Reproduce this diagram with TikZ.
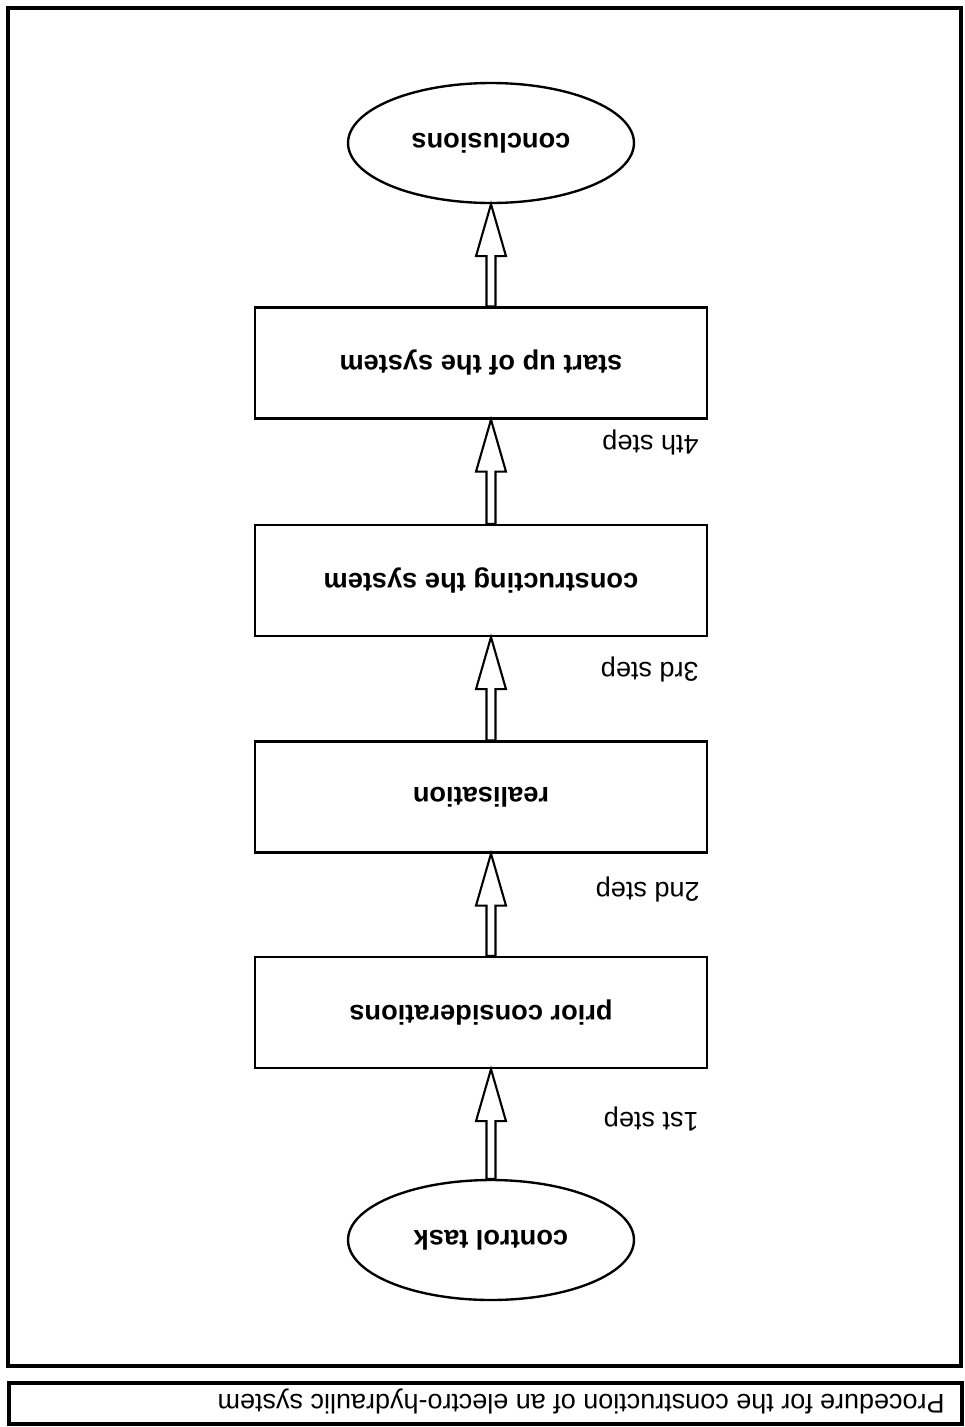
\documentclass[tikz,border=0pt]{standalone}
\usepackage{fontspec}
\setmainfont{Liberation Sans}
\usepackage{graphicx}
\usetikzlibrary{shapes.geometric,calc}

% the whole sheet is printed upside down
\newcommand\flip[1]{\rotatebox{180}{#1}}
% hollow arrow: shaft from #1, tip at #2
\newcommand\hollowarrow[2]{%
 \draw[line width=1.2pt,fill=white] ($(#1)+(-4.5,0)$) -- ($(#2)+(-4.5,52)$)
  -- ($(#2)+(-15,52)$) -- (#2) -- ($(#2)+(15,52)$) -- ($(#2)+(4.5,52)$)
  -- ($(#1)+(4.5,0)$) -- cycle;}

\begin{document}
\begin{tikzpicture}[x=0.02cm,y=-0.02cm,
 stepbox/.style={draw,line width=1.35pt,minimum width=9.04cm,minimum height=2.22cm,
  font=\bfseries\fontsize{15.5}{18}\selectfont},
 endpoint/.style={draw,ellipse,line width=1.35pt,inner sep=0pt,minimum width=5.72cm,
  minimum height=2.4cm,font=\bfseries\fontsize{15.5}{18}\selectfont},
 steplabel/.style={anchor=east,inner sep=0pt,font=\fontsize{15.4}{18}\selectfont}]
\useasboundingbox (0,0) rectangle (964,1427);
\draw[line width=2pt] (8,8) rectangle (961,1366);
\draw[line width=1.8pt] (9,1383) rectangle (962,1424);
\node[anchor=east,inner sep=0pt,font=\fontsize{15.35}{18}\selectfont] (title) at (945,1401)
 {\flip{Procedure for the construction of an electro-hydraulic system}};

\node[endpoint] (concl) at (491,143) {\flip{conclusions}};
\node[stepbox] (startup) at (481,363) {\flip{start up of the system}};
\node[stepbox] (constr) at (481,580.5) {\flip{constructing the system}};
\node[stepbox] (real) at (481,797) {\flip{realisation}};
\node[stepbox] (prior) at (481,1012.5) {\flip{prior considerations}};
\node[endpoint] (ctask) at (491,1240) {\flip{control task}};

\node[steplabel] (s4) at (699,442) {\flip{4th step}};
\node[steplabel] (s3) at (699,669) {\flip{3rd step}};
\node[steplabel] (s2) at (700,889) {\flip{2nd step}};
\node[steplabel] (s1) at (699,1119) {\flip{1st step}};

\hollowarrow{ctask.north}{prior.south -| ctask.north}
\hollowarrow{prior.north -| ctask.north}{real.south -| ctask.north}
\hollowarrow{real.north -| ctask.north}{constr.south -| ctask.north}
\hollowarrow{constr.north -| ctask.north}{startup.south -| ctask.north}
\hollowarrow{startup.north -| ctask.north}{concl.south}
\end{tikzpicture}
\end{document}
